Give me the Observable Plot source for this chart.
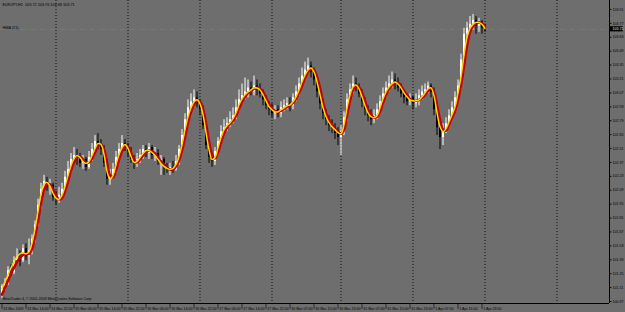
<!DOCTYPE html>
<html>
<head>
<meta charset="utf-8">
<script src="https://cdn.jsdelivr.net/npm/d3@7"></script>
<script src="https://cdn.jsdelivr.net/npm/@observablehq/plot@0.6"></script>
<style>
  html, body { margin: 0; padding: 0; background: #6e6e6e; }
  #chart { width: 625px; height: 312px; overflow: hidden; }
</style>
</head>
<body>
<div id="chart"></div>
<script>
// ---- Data (EURJPY, H1) ----
const symbolTitle = "EURJPY,H1  103.72 103.76 103.68 103.71";
const indicatorName = "HMA (21)";
const copyright = "MetaTrader 4, \u00A9 2001-2009 MetaQuotes Software Corp.";

const firstOpen = 101.05;
const closes = [
  101.12,101.15,101.28,101.26,101.38,101.42,101.38,101.50,101.42,101.48,
  101.60,101.74,101.94,102.10,102.18,102.12,102.14,102.02,102.00,102.04,
  102.10,102.22,102.30,102.40,102.44,102.40,102.36,102.40,102.32,102.42,
  102.50,102.58,102.54,102.50,102.36,102.20,102.24,102.30,102.42,102.50,
  102.56,102.52,102.48,102.40,102.36,102.40,102.44,102.50,102.46,102.52,
  102.44,102.46,102.38,102.40,102.32,102.30,102.32,102.30,102.38,102.50,
  102.64,102.80,102.92,102.98,103.02,102.96,102.90,102.74,102.54,102.42,
  102.38,102.48,102.58,102.68,102.72,102.76,102.80,102.84,102.92,103.00,
  103.04,103.08,103.12,103.08,103.14,103.10,103.06,103.00,102.94,102.90,
  102.86,102.90,102.86,102.92,102.94,102.96,102.94,103.02,103.08,103.16,
  103.24,103.30,103.34,103.28,103.20,103.08,102.96,102.86,102.80,102.74,
  102.72,102.66,102.62,102.68,102.82,103.00,103.10,103.16,103.12,103.06,
  102.98,102.90,102.84,102.80,102.84,102.90,102.98,103.06,103.12,103.16,
  103.20,103.16,103.12,103.06,103.02,102.98,103.02,102.96,103.00,103.04,
  103.08,103.10,103.14,103.08,102.90,102.72,102.62,102.70,102.76,102.84,
  102.92,103.02,103.14,103.40,103.66,103.72,103.76,103.80,103.74,103.78,
  103.72,103.71
];
const highs = [
  101.14,101.20,101.32,101.34,101.42,101.50,101.48,101.54,101.55,101.60,
  101.64,101.78,102.00,102.16,102.24,102.22,102.20,102.16,102.08,102.12,
  102.16,102.28,102.38,102.46,102.52,102.50,102.46,102.44,102.42,102.48,
  102.56,102.64,102.66,102.60,102.54,102.40,102.30,102.36,102.48,102.56,
  102.64,102.60,102.56,102.52,102.44,102.46,102.50,102.54,102.54,102.56,
  102.54,102.52,102.50,102.44,102.42,102.36,102.36,102.38,102.44,102.54,
  102.70,102.86,103.00,103.06,103.10,103.08,103.00,102.94,102.78,102.58,
  102.46,102.52,102.62,102.74,102.80,102.82,102.88,102.92,103.00,103.10,
  103.16,103.22,103.20,103.18,103.24,103.20,103.16,103.10,103.04,102.98,
  102.96,102.94,102.94,102.98,103.00,103.02,103.02,103.06,103.14,103.22,
  103.32,103.38,103.42,103.38,103.32,103.24,103.12,103.00,102.90,102.84,
  102.80,102.76,102.72,102.74,102.88,103.06,103.16,103.24,103.22,103.16,
  103.10,103.02,102.94,102.90,102.90,102.96,103.04,103.12,103.18,103.24,
  103.28,103.26,103.22,103.16,103.10,103.06,103.06,103.04,103.06,103.10,
  103.14,103.16,103.18,103.16,103.12,102.94,102.80,102.76,102.82,102.90,
  102.98,103.08,103.20,103.46,103.72,103.78,103.84,103.86,103.84,103.82,
  103.80,103.76
];
const lows = [
  101.00,101.08,101.13,101.22,101.24,101.35,101.32,101.36,101.38,101.34,
  101.44,101.56,101.72,101.90,102.06,102.08,102.04,101.98,101.94,101.96,
  102.00,102.06,102.18,102.26,102.36,102.34,102.32,102.30,102.28,102.30,
  102.38,102.46,102.50,102.44,102.32,102.14,102.14,102.22,102.26,102.38,
  102.46,102.48,102.42,102.36,102.30,102.32,102.36,102.40,102.42,102.40,
  102.40,102.38,102.34,102.24,102.24,102.26,102.24,102.26,102.28,102.34,
  102.48,102.60,102.76,102.88,102.92,102.92,102.84,102.70,102.50,102.36,
  102.32,102.34,102.44,102.54,102.64,102.68,102.72,102.76,102.80,102.88,
  102.96,103.00,103.02,103.04,103.04,103.04,103.02,102.94,102.90,102.84,
  102.82,102.80,102.82,102.82,102.88,102.90,102.88,102.90,102.98,103.04,
  103.12,103.20,103.26,103.22,103.14,103.02,102.90,102.80,102.74,102.68,
  102.66,102.60,102.54,102.44,102.64,102.78,102.96,103.06,103.08,103.02,
  102.92,102.84,102.78,102.74,102.76,102.80,102.86,102.94,103.02,103.08,
  103.12,103.10,103.08,103.02,102.96,102.94,102.94,102.90,102.92,102.94,
  103.00,103.04,103.06,103.02,102.84,102.64,102.50,102.54,102.66,102.72,
  102.80,102.88,102.98,103.10,103.36,103.60,103.68,103.70,103.66,103.68,
  103.66,103.68
];
// fast smoothed line (yellow)
const fastLine = [
  101.10,101.17,101.24,101.31,101.37,101.42,101.45,101.46,101.45,101.47,
  101.56,101.70,101.88,102.05,102.15,102.17,102.13,102.06,102.01,102.00,
  102.04,102.13,102.24,102.34,102.41,102.44,102.42,102.38,102.36,102.38,
  102.44,102.51,102.56,102.55,102.45,102.28,102.20,102.24,102.35,102.45,
  102.52,102.55,102.51,102.43,102.37,102.38,102.42,102.46,102.49,102.49,
  102.47,102.44,102.40,102.36,102.33,102.31,102.30,102.31,102.35,102.43,
  102.55,102.70,102.83,102.92,102.98,103.00,102.96,102.85,102.67,102.50,
  102.40,102.42,102.52,102.62,102.70,102.74,102.77,102.81,102.87,102.95,
  103.01,103.05,103.08,103.10,103.12,103.12,103.10,103.05,102.99,102.93,
  102.90,102.88,102.88,102.90,102.92,102.94,102.95,102.98,103.03,103.10,
  103.18,103.25,103.30,103.32,103.28,103.18,103.05,102.92,102.83,102.77,
  102.73,102.70,102.67,102.66,102.75,102.92,103.05,103.13,103.15,103.11,
  103.03,102.94,102.87,102.83,102.82,102.84,102.92,103.01,103.08,103.13,
  103.16,103.18,103.16,103.12,103.07,103.03,103.00,102.99,102.99,103.00,
  103.03,103.07,103.11,103.12,103.04,102.87,102.73,102.68,102.71,102.78,
  102.85,102.93,103.07,103.23,103.45,103.63,103.72,103.76,103.78,103.78,
  103.76,103.72
];
// slow smoothed line (red)
const slowLine = [
  101.04,101.11,101.18,101.25,101.31,101.37,101.41,101.44,101.45,101.45,
  101.50,101.62,101.78,101.96,102.09,102.15,102.15,102.10,102.04,102.00,
  102.01,102.08,102.18,102.29,102.37,102.42,102.43,102.40,102.37,102.37,
  102.41,102.47,102.53,102.55,102.50,102.37,102.24,102.22,102.29,102.40,
  102.48,102.53,102.53,102.47,102.40,102.37,102.40,102.44,102.47,102.49,
  102.48,102.46,102.42,102.38,102.35,102.32,102.30,102.30,102.33,102.39,
  102.49,102.62,102.77,102.88,102.95,102.99,102.98,102.91,102.76,102.58,
  102.45,102.41,102.47,102.57,102.66,102.72,102.76,102.79,102.84,102.91,
  102.98,103.03,103.07,103.09,103.11,103.12,103.11,103.08,103.02,102.96,
  102.91,102.89,102.88,102.89,102.91,102.93,102.95,102.97,103.01,103.07,
  103.14,103.22,103.28,103.31,103.30,103.23,103.12,102.98,102.87,102.80,
  102.75,102.71,102.68,102.66,102.70,102.84,102.99,103.10,103.14,103.13,
  103.07,102.99,102.90,102.85,102.82,102.83,102.88,102.97,103.05,103.11,
  103.15,103.17,103.17,103.14,103.09,103.05,103.01,102.99,102.99,103.00,
  103.02,103.05,103.09,103.12,103.08,102.95,102.80,102.70,102.69,102.75,
  102.82,102.89,103.00,103.15,103.34,103.54,103.68,103.74,103.77,103.78,
  103.77,103.74
];
// price axis tick labels
const priceTicks = [103.91,103.77,103.63,103.49,103.35,103.21,103.07,102.93,102.79,102.65,
  102.51,102.37,102.23,102.09,101.95,101.81,101.67,101.53,101.39,101.25,101.11,100.97];
// time axis labels (bar index where each label sits)
const timeLabelBars = [0,8,16,24,32,40,48,56,64,72,80,88,96,104,112,120,128,136,144,152,160];
const timeLabels = ["24 Mar 2009","24 Mar 14:00","24 Mar 22:00","25 Mar 06:00","25 Mar 14:00",
  "25 Mar 22:00","26 Mar 06:00","26 Mar 14:00","26 Mar 22:00","27 Mar 06:00","27 Mar 14:00",
  "27 Mar 22:00","30 Mar 07:00","30 Mar 15:00","30 Mar 23:00","31 Mar 07:00","31 Mar 15:00",
  "31 Mar 23:00","1 Apr 07:00","1 Apr 15:00","1 Apr 23:00"];
// period separators (bar index of first bar of each day)
const dayStartBars = [18,42,66,90,113,137,161,185];

// ---- Build ----
const bars = closes.map((c, i) => ({
  i, close: c, open: i === 0 ? firstOpen : closes[i - 1], high: highs[i], low: lows[i]
}));
const fast = fastLine.map((v, i) => ({i, v}));
const slow = slowLine.map((v, i) => ({i, v}));
const xDomain = [-0.5, 202.5];
const yDomain = [100.95, 104.0];
const lastClose = closes[closes.length - 1];
const font = "Liberation Sans, Arial, sans-serif";
const upDown = d => d.close >= d.open ? "#ffffff" : "#000000";
const tl = timeLabelBars.map((b, k) => ({b, t: timeLabels[k]}));

const chart = Plot.plot({
  width: 625, height: 312,
  marginLeft: 0, marginRight: 16, marginTop: 0, marginBottom: 9,
  x: {type: "linear", domain: xDomain, axis: null},
  y: {type: "linear", domain: yDomain, axis: null},
  style: {background: "#6e6e6e", overflow: "visible"},
  marks: [
    // period separators
    Plot.ruleX(dayStartBars, {x: d => d, stroke: "#111", strokeWidth: 1, strokeDasharray: "1,2"}),
    // bid line
    Plot.ruleY([lastClose], {y: d => d, stroke: "#5f9a5f", strokeWidth: 0.7, strokeDasharray: "5,2,1,2"}),
    // candles
    Plot.ruleX(bars, {x: "i", y1: "low", y2: "high", stroke: upDown, strokeWidth: 1}),
    Plot.ruleX(bars, {x: "i", y1: "open", y2: "close", stroke: upDown, strokeWidth: 2}),
    // smoothed lines
    Plot.line(slow, {x: "i", y: "v", stroke: "#c00000", strokeWidth: 2.6, curve: "catmull-rom"}),
    Plot.line(fast, {x: "i", y: "v", stroke: "#ffd400", strokeWidth: 1.5, curve: "catmull-rom"}),
    // axes lines
    Plot.ruleX([xDomain[1]], {x: d => d, stroke: "#000", strokeWidth: 1}),
    Plot.ruleY([yDomain[0]], {y: d => d, stroke: "#000", strokeWidth: 1}),
    // price axis ticks + labels
    Plot.ruleY(priceTicks, {y: d => d, x1: xDomain[1], x2: xDomain[1] + 0.8, stroke: "#000"}),
    Plot.text(priceTicks, {x: xDomain[1], y: d => d, text: d => d.toFixed(2), dx: 3, textAnchor: "start",
      fontSize: 3.6, fill: "#000", fontFamily: font}),
    // current price box
    Plot.rect([lastClose], {x1: xDomain[1], x2: xDomain[1] + 4.6, y1: d => d - 0.026, y2: d => d + 0.026, fill: "#000"}),
    Plot.text([lastClose], {x: xDomain[1], y: d => d, text: d => d.toFixed(2), dx: 3, textAnchor: "start",
      fontSize: 3.6, fill: "#e0e0e0", fontFamily: font}),
    // time axis ticks + labels
    Plot.ruleX(tl, {x: "b", y1: yDomain[0], y2: yDomain[0] - 0.06, stroke: "#000", strokeWidth: 0.6}),
    Plot.text(tl, {x: "b", y: yDomain[0], text: "t", dx: 1.2, dy: 5, textAnchor: "start",
      fontSize: 3.6, fill: "#000", fontFamily: font}),
    // texts
    Plot.text([symbolTitle], {frameAnchor: "top-left", dx: 2, dy: 2.5, lineAnchor: "top", fontSize: 3.8,
      fill: "#000", fontFamily: font}),
    Plot.text([indicatorName], {frameAnchor: "top-left", dx: 2, dy: 25.5, lineAnchor: "top", fontSize: 3.8,
      fill: "#000", fontFamily: font}),
    Plot.text([copyright], {frameAnchor: "bottom-left", dx: 2, dy: -3.5, lineAnchor: "bottom", fontSize: 3.6,
      fill: "#000", fontFamily: font})
  ]
});
document.getElementById("chart").appendChild(chart);
</script>
</body>
</html>
